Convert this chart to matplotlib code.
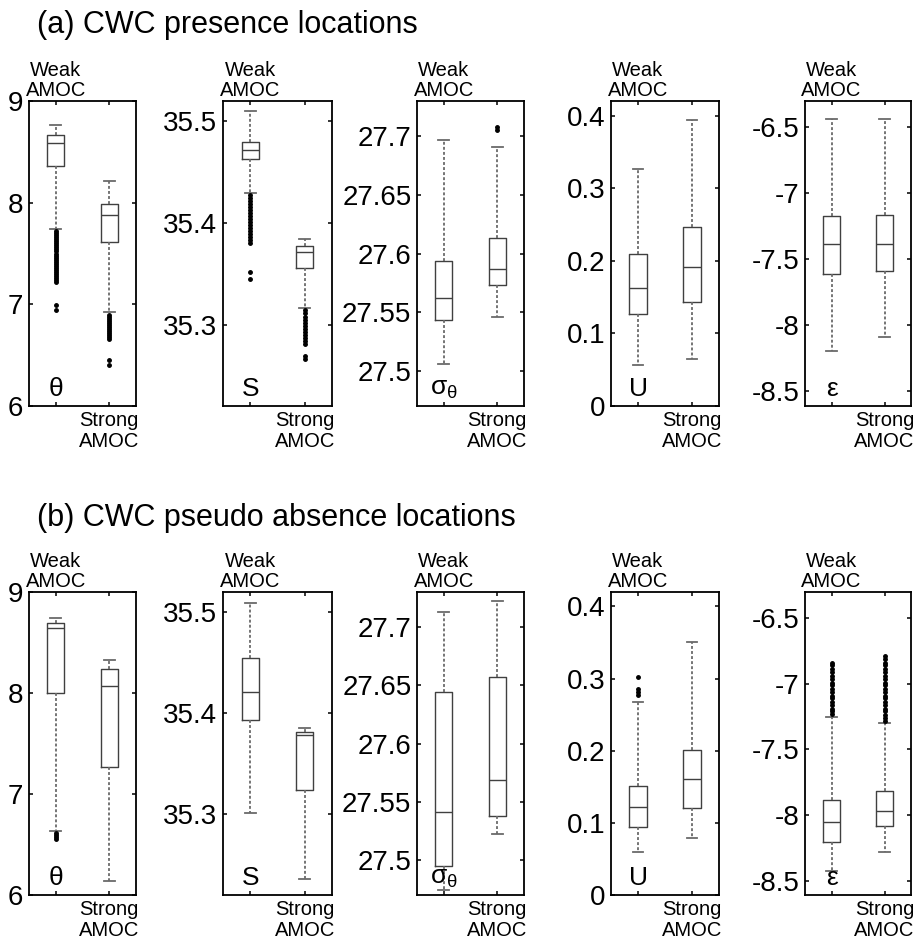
import matplotlib
matplotlib.use('Agg')
import matplotlib.pyplot as plt

plt.rcParams['font.family'] = ['Liberation Sans', 'DejaVu Sans']

# five-number summaries per box: lower whisker, q1, median, q3, upper whisker
# first entry = weak AMOC, second = strong AMOC

# (a) presence locations
pres_theta = [[7.74, 8.36, 8.59, 8.67, 8.76], [6.92, 7.61, 7.88, 7.99, 8.21]]
pres_theta_out = [
    [7.72, 7.70, 7.68, 7.66, 7.64, 7.62, 7.60, 7.58, 7.56, 7.54, 7.52, 7.50,
     7.48, 7.46, 7.44, 7.42, 7.40, 7.38, 7.36, 7.34, 7.32, 7.30, 7.28, 7.26,
     7.24, 7.22, 6.99, 6.94],
    [6.90, 6.88, 6.86, 6.84, 6.82, 6.80, 6.78, 6.76, 6.74, 6.72, 6.70, 6.68,
     6.66, 6.45, 6.40],
]
pres_sal = [[35.430, 35.463, 35.472, 35.480, 35.510],
            [35.316, 35.356, 35.371, 35.377, 35.384]]
pres_sal_out = [
    [35.428, 35.425, 35.422, 35.419, 35.416, 35.413, 35.410, 35.407, 35.404,
     35.401, 35.398, 35.395, 35.392, 35.389, 35.386, 35.383, 35.380, 35.352,
     35.345],
    [35.314, 35.311, 35.308, 35.305, 35.302, 35.299, 35.296, 35.293, 35.290,
     35.287, 35.284, 35.281, 35.269, 35.266],
]
pres_sig = [[27.506, 27.543, 27.562, 27.594, 27.697],
            [27.546, 27.573, 27.587, 27.613, 27.691]]
pres_sig_out = [[], [27.708, 27.705]]
pres_u = [[0.056, 0.127, 0.163, 0.210, 0.326], [0.065, 0.143, 0.192, 0.247, 0.394]]
pres_u_out = [[], []]
pres_eps = [[-8.19, -7.61, -7.38, -7.17, -6.44], [-8.09, -7.59, -7.38, -7.16, -6.44]]
pres_eps_out = [[], []]

# (b) pseudo absence locations
abs_theta = [[6.63, 8.00, 8.64, 8.69, 8.74], [6.14, 7.27, 8.07, 8.24, 8.33]]
abs_theta_out = [[6.61, 6.59, 6.57, 6.55], []]
abs_sal = [[35.301, 35.393, 35.421, 35.455, 35.509],
           [35.236, 35.324, 35.378, 35.381, 35.385]]
abs_sal_out = [[], []]
abs_sig = [[27.474, 27.495, 27.541, 27.644, 27.713],
           [27.522, 27.538, 27.569, 27.657, 27.722]]
abs_sig_out = [[], []]
abs_u = [[0.059, 0.094, 0.122, 0.151, 0.267], [0.079, 0.121, 0.161, 0.201, 0.351]]
abs_u_out = [[0.302, 0.286, 0.281, 0.277], []]
abs_eps = [[-8.425, -8.204, -8.053, -7.884, -7.25], [-8.28, -8.085, -7.967, -7.82, -7.30]]
abs_eps_out = [
    [-6.84, -6.86, -6.89, -6.91, -6.94, -6.96, -6.99, -7.01, -7.04, -7.06,
     -7.09, -7.11, -7.14, -7.16, -7.19, -7.21, -7.23],
    [-6.79, -6.81, -6.84, -6.86, -6.89, -6.91, -6.94, -6.96, -6.99, -7.01,
     -7.04, -7.06, -7.09, -7.11, -7.14, -7.16, -7.19, -7.21, -7.24, -7.26,
     -7.28],
]

var_labels = ['θ', 'S', r'$\mathregular{\sigma_\theta}$', 'U', 'ε']
var_ylims = [(6, 9), (35.22, 35.52), (27.47, 27.73), (0, 0.42), (-8.61, -6.30)]
var_yticks = [[6, 7, 8, 9], [35.3, 35.4, 35.5], [27.5, 27.55, 27.6, 27.65, 27.7],
              [0, 0.1, 0.2, 0.3, 0.4], [-8.5, -8, -7.5, -7, -6.5]]

W, H = 913, 941
fig = plt.figure(figsize=(W / 100, H / 100), dpi=100)

col_px = [(29, 136), (223, 332), (417, 524), (611, 719), (805, 911)]
row_px = [(101, 406), (592, 895)]


def panel(x_px, y_px, summ, outl, ylim, yticks, label):
    x0, x1 = x_px
    y0, y1 = y_px
    ax = fig.add_axes([x0 / W, 1 - y1 / H, (x1 - x0) / W, (y1 - y0) / H])
    stats = [dict(whislo=s[0], q1=s[1], med=s[2], q3=s[3], whishi=s[4], fliers=f)
             for s, f in zip(summ, outl)]
    ax.bxp(stats, positions=[1, 2], widths=0.32, capwidths=0.2,
           boxprops=dict(color='#404040', lw=1.0),
           medianprops=dict(color='#404040', lw=1.0),
           whiskerprops=dict(color='#6a6a6a', lw=1.3, ls=(0, (1.6, 1.2))),
           capprops=dict(color='#6a6a6a', lw=1.3),
           flierprops=dict(marker='.', markersize=5, markerfacecolor='k',
                           markeredgecolor='k'))
    ax.set_xlim(0.5, 2.5)
    ax.set_ylim(*ylim)
    ax.set_xticks([1, 2])
    ax.set_xticklabels([])
    ax.set_yticks(yticks)
    ax.set_yticklabels(['%g' % v for v in yticks])
    ax.tick_params(direction='in', length=3, width=1.1, top=True, right=True,
                   labelsize=20, pad=4)
    for sp in ax.spines.values():
        sp.set_linewidth(1.3)
    tr = ax.get_xaxis_transform()
    ax.text(1, 1.003, 'Weak\nAMOC', transform=tr, ha='center', va='bottom',
            fontsize=14.5, linespacing=1.1)
    ax.text(2, -0.018, 'Strong\nAMOC', transform=tr, ha='center', va='top',
            fontsize=14.5, linespacing=1.1)
    ax.text(1, 0.055, label, transform=tr, ha='center', va='center', fontsize=19)
    return ax


pres = [(pres_theta, pres_theta_out), (pres_sal, pres_sal_out), (pres_sig, pres_sig_out),
        (pres_u, pres_u_out), (pres_eps, pres_eps_out)]
absn = [(abs_theta, abs_theta_out), (abs_sal, abs_sal_out), (abs_sig, abs_sig_out),
        (abs_u, abs_u_out), (abs_eps, abs_eps_out)]

for r, group in enumerate([pres, absn]):
    for c, (summ, outl) in enumerate(group):
        panel(col_px[c], row_px[r], summ, outl, var_ylims[c], var_yticks[c], var_labels[c])

fig.text(37 / W, 1 - 33 / H, '(a) CWC presence locations', fontsize=22,
         ha='left', va='baseline')
fig.text(37 / W, 1 - 526 / H, '(b) CWC pseudo absence locations', fontsize=22,
         ha='left', va='baseline')

fig.savefig('out.png', dpi=100)
